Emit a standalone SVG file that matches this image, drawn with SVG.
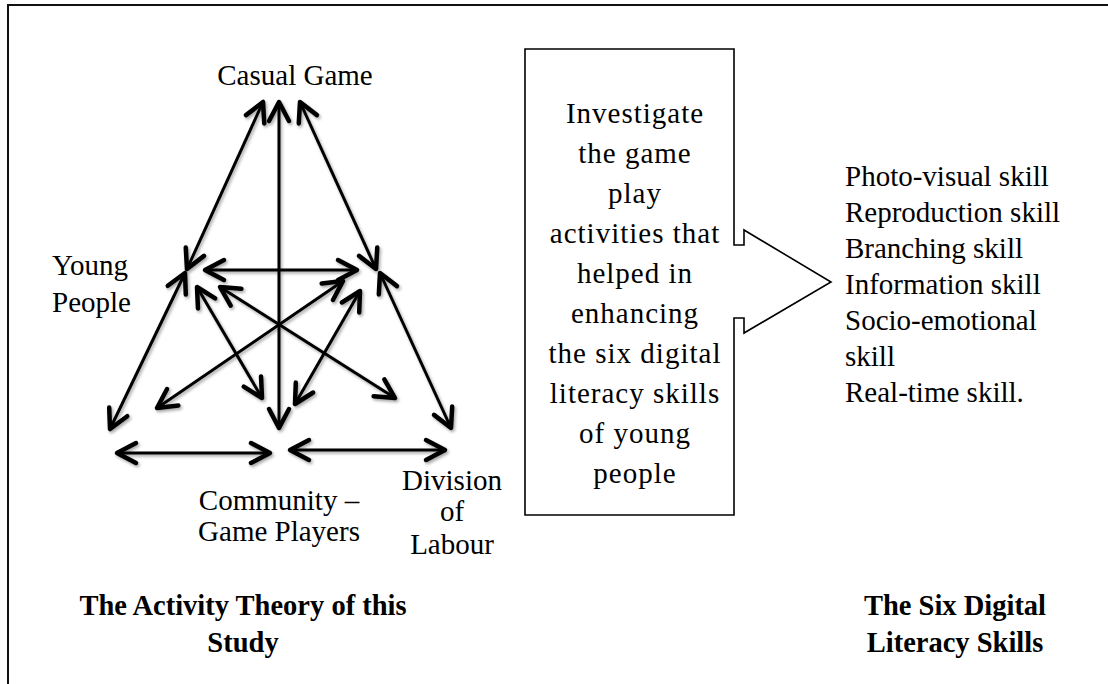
<svg xmlns="http://www.w3.org/2000/svg" width="1108" height="684" viewBox="0 0 1108 684">
  <style>
    .t { font-family: "Liberation Serif", "Times New Roman", serif; font-size: 29px; fill: #000; }
    .b { font-family: "Liberation Serif", "Times New Roman", serif; font-size: 28.5px; font-weight: bold; fill: #000; }
    .box { letter-spacing: 1px; }
    .c { text-anchor: middle; }
    .conn line { stroke: #000; stroke-width: 3; marker-start: url(#head); marker-end: url(#head); }
  </style>
  <defs>
    <marker id="head" markerUnits="userSpaceOnUse" viewBox="-25 -15 30 30" markerWidth="30" markerHeight="30" refX="0" refY="0" orient="auto-start-reverse" overflow="visible">
      <path d="M-19,-10 L0,0 L-19,10" fill="none" stroke="#000" stroke-width="4.5" stroke-linecap="round" stroke-linejoin="round"/>
    </marker>
    <filter id="shadow" x="-10%" y="-10%" width="120%" height="120%">
      <feDropShadow dx="1.5" dy="2" stdDeviation="1.5" flood-color="#000" flood-opacity="0.35"/>
    </filter>
  </defs>

  <rect width="1108" height="684" fill="#fff"/>
  <!-- frame: only the top and left edges fall inside the page -->
  <rect x="8" y="5" width="1200" height="800" fill="none" stroke="#111" stroke-width="2"/>

  <!-- activity-theory triangle connectors -->
  <g id="connectors" class="conn" filter="url(#shadow)">
    <line x1="279" y1="102" x2="279" y2="428"/>
    <line x1="263" y1="102" x2="187" y2="269"/>
    <line x1="300" y1="102" x2="376" y2="269"/>
    <line x1="205" y1="270" x2="357" y2="270"/>
    <line x1="185" y1="273" x2="110" y2="429"/>
    <line x1="380" y1="273" x2="451" y2="428"/>
    <line x1="220" y1="287" x2="395" y2="398"/>
    <line x1="157" y1="408" x2="343" y2="281"/>
    <line x1="197" y1="287" x2="262" y2="398"/>
    <line x1="360" y1="291" x2="295" y2="404"/>
    <line x1="117" y1="453" x2="270" y2="453"/>
    <line x1="290" y1="450" x2="445" y2="450"/>
  </g>

  <g id="casual-game">
    <text class="t c" x="295" y="85">Casual Game</text>
  </g>
  <g id="young-people">
    <text class="t" x="52" y="275">Young</text>
    <text class="t" x="52" y="312">People</text>
  </g>
  <g id="community">
    <text class="t c" x="279" y="510">Community –</text>
    <text class="t c" x="279" y="541">Game Players</text>
  </g>
  <g id="division-of-labour">
    <text class="t c" x="452" y="490">Division</text>
    <text class="t c" x="452" y="521">of</text>
    <text class="t c" x="452" y="554">Labour</text>
  </g>
  <g id="activity-theory-title">
    <text class="b c" x="243" y="615">The Activity Theory of this</text>
    <text class="b c" x="243" y="652">Study</text>
  </g>

  <!-- callout box with right-pointing arrow -->
  <g id="investigate">
    <path d="M525,49 L734,49 L734,245 L744,245 L744,230 L831,282 L744,333 L744,318 L734,318 L734,515 L525,515 Z" fill="#fff" stroke="#000" stroke-width="1.6" stroke-linejoin="miter"/>
    <text class="t c box" x="635" y="123">Investigate</text>
    <text class="t c box" x="635" y="163">the game</text>
    <text class="t c box" x="635" y="203">play</text>
    <text class="t c box" x="635" y="243">activities that</text>
    <text class="t c box" x="635" y="283">helped in</text>
    <text class="t c box" x="635" y="323">enhancing</text>
    <text class="t c box" x="635" y="363">the six digital</text>
    <text class="t c box" x="635" y="403">literacy skills</text>
    <text class="t c box" x="635" y="443">of young</text>
    <text class="t c box" x="635" y="483">people</text>
  </g>

  <g id="skills">
    <text class="t" x="845" y="186">Photo-visual skill</text>
    <text class="t" x="845" y="222">Reproduction skill</text>
    <text class="t" x="845" y="258">Branching skill</text>
    <text class="t" x="845" y="294">Information skill</text>
    <text class="t" x="845" y="330">Socio-emotional</text>
    <text class="t" x="845" y="366">skill</text>
    <text class="t" x="845" y="402">Real-time skill.</text>
  </g>
  <g id="skills-title">
    <text class="b c" x="955" y="615">The Six Digital</text>
    <text class="b c" x="955" y="652">Literacy Skills</text>
  </g>
</svg>
